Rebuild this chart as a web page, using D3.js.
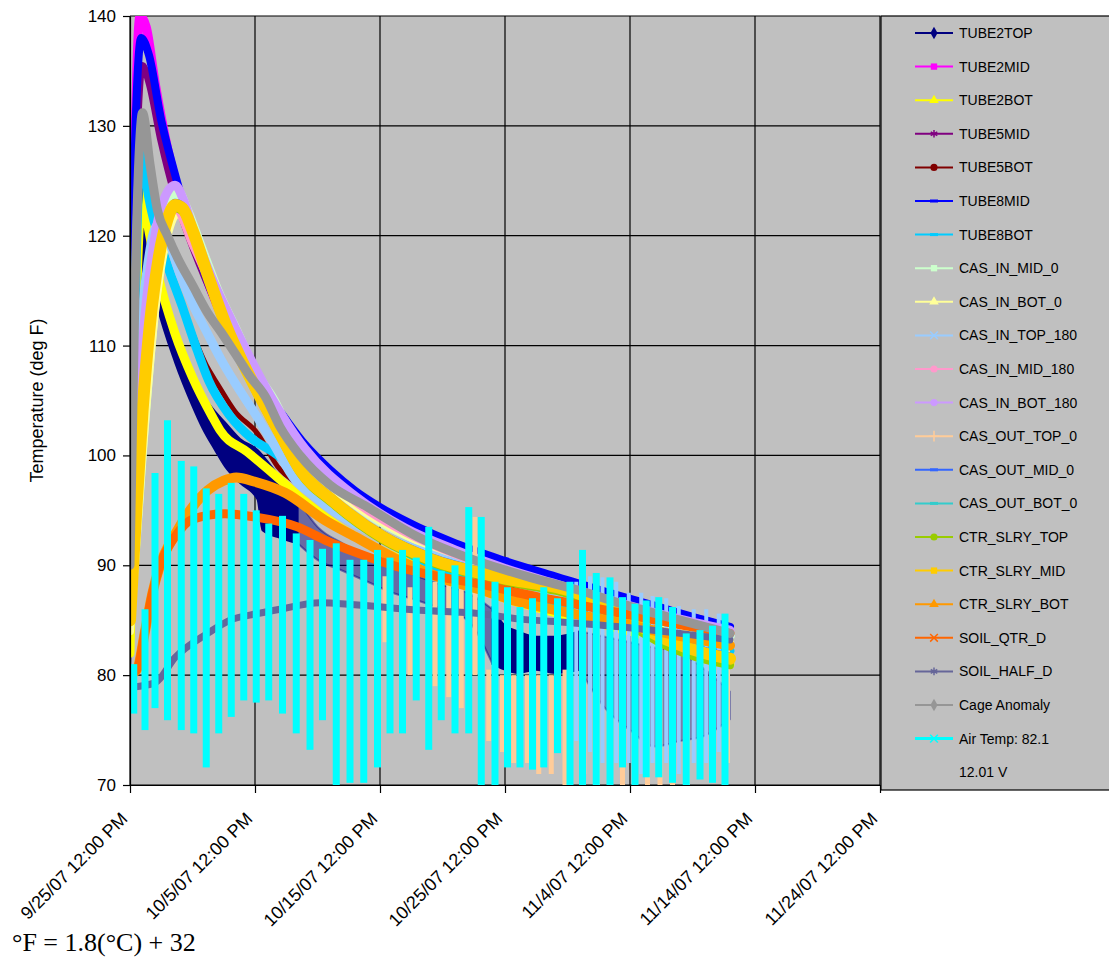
<!DOCTYPE html>
<html>
<head>
<meta charset="utf-8">
<script src="https://cdnjs.cloudflare.com/ajax/libs/d3/7.8.5/d3.min.js"></script>
<style>
  body { margin: 0; background: #fff; }
  svg { display: block; }
  text { font-family: Arial, "Liberation Sans", sans-serif; fill: #000; }
</style>
</head>
<body>
<script>
// days counted from 9/25/07 12:00 PM
var xTickDays = [0, 10, 20, 30, 40, 50, 60];
var xTickLabels = ["9/25/07 12:00 PM", "10/5/07 12:00 PM", "10/15/07 12:00 PM", "10/25/07 12:00 PM",
                   "11/4/07 12:00 PM", "11/14/07 12:00 PM", "11/24/07 12:00 PM"];
var yTicks = [70, 80, 90, 100, 110, 120, 130, 140];

var seriesNames = ["TUBE2TOP", "TUBE2MID", "TUBE2BOT", "TUBE5MID", "TUBE5BOT", "TUBE8MID", "TUBE8BOT",
  "CAS_IN_MID_0", "CAS_IN_BOT_0", "CAS_IN_TOP_180", "CAS_IN_MID_180", "CAS_IN_BOT_180",
  "CAS_OUT_TOP_0", "CAS_OUT_MID_0", "CAS_OUT_BOT_0", "CTR_SLRY_TOP", "CTR_SLRY_MID", "CTR_SLRY_BOT",
  "SOIL_QTR_D", "SOIL_HALF_D", "Cage Anomaly", "Air Temp: 82.1", "12.01 V"];
var seriesColors = ["#000080", "#FF00FF", "#FFFF00", "#800080", "#800000", "#0000FF", "#00CCFF",
  "#CCFFCC", "#FFFF99", "#99CCFF", "#FF99CC", "#CC99FF",
  "#FFCC99", "#3366FF", "#33CCCC", "#99CC00", "#FFCC00", "#FF9900",
  "#FF6600", "#666699", "#969696", "#00FFFF", null];
var seriesMarkers = ["diamond", "square", "triangle", "asterisk", "circle", "dash", "dash",
  "square", "triangle", "times", "circle", "circle",
  "plus", "dash", "dash", "circle", "square", "triangle",
  "times", "asterisk", "diamond", "times", null];

// TUBE2TOP is a noisy cloud: [day, low, high]
var tube2TopA = [[0,80,82],[0.3,98,118],[0.8,110,127],[1.5,117,120],[2.2,113.5,116.5],[3.6,108.5,111],
  [5,104.5,107],[5.8,102.5,105.5],[6.8,100.5,104],[7.6,99,103],[8.8,97.5,101.5],[10.2,96,100.5],
  [10.6,93.2,100],[12,92.5,98],[13.4,92,96]];
var tube2TopB = [[13.4,92,96],[15,90.5,93.5],[17,89.5,92],[19,88.5,90.8],[21,87.5,90],[23,86.8,89],
  [25,86,88.2],[27,85,87.5],[29,81,86]];
var tube2TopC = [[29,81,86],[30,80.5,84.5],[31,80.2,84],[32.5,80.5,83.5],[34,80.2,83.5],[36,80.5,84]];
var tube2TopD = [[36,80.5,84],[38,77,83.5],[40,75,83],[42,73.5,82.5],[44,74,82],[46,74.5,80.5],[48,76,78.5]];

var tube2Mid = [[0,90],[0.4,128],[0.8,140],[1.3,139],[2,134],[3,128],[4,123.5],[5,120],[6,116.5],[8,111],
  [10,106.5],[12,103],[14,100],[16,97.8],[18,96],[20,94.6],[23,92.7],[26,91.2],[30,89.7],[34,88.3],
  [38,86.9],[42,85.5],[46,84.2],[48,83.6]];
var tube2Bot = [[0,82],[0.5,113],[1.0,123.9],[1.5,120.5],[2.2,116.6],[3.6,111.1],[5.0,107.1],[6.6,103.5],
  [7.2,102.3],[9.4,100.3],[12,97.8],[14,95.8],[17,93.3],[20,91.4],[25,89],[30,87],[35,85.4],[40,84],
  [44,82.6],[48,81]];
var tube5Mid = [[0,95],[0.5,126],[1,135.5],[1.5,134],[2.5,128.5],[3.5,124],[5,119],[7,113.5],[10,106.5],
  [14,100.3],[18,96.3],[22,93.8],[26,91.8],[30,90.1],[35,88.4],[40,86.8],[44,85.6],[48,84.4]];
var tube5Bot = [[0,88],[0.5,118],[1.2,126],[2,121.5],[3,117],[4.4,112.9],[6.2,108],[7,106.5],[8.4,104],
  [10.2,102],[11.8,99],[14,97],[17,94.5],[20,92.5],[25,90],[30,88],[35,86.5],[40,85],[44,84],[48,83]];
var tube8Mid = [[0,95],[0.3,124],[0.9,138],[1.5,136.5],[2.5,130.5],[3.5,126],[4.5,122],[6,116.5],[8,111],
  [10,106.8],[11,105.5],[12,104],[14,101],[16,98.7],[18,96.8],[20,95.3],[23,93.5],[26,92],[30,90.4],
  [34,89],[38,87.6],[42,86.3],[46,85],[48,84.4]];
var tube8Bot = [[0,85],[0.5,118],[0.9,128],[1.5,123.5],[2.6,118.7],[4.2,113.5],[5.4,109.5],[6.3,106.8],
  [8,103.6],[9.8,101.5],[11.6,100.2],[14.2,97.8],[17,95],[20,92.6],[25,89.6],[30,87.6],[35,86],[40,84.6],
  [44,83.4],[48,82.2]];
var casInMid0 = [[0,85],[1,101],[2,114],[3,121.5],[3.8,124],[4.5,122.5],[5.5,119.5],[7,115],[8.4,111.6],
  [10.2,107.3],[11.5,105],[13,101.5],[14.5,99],[17,96.5],[20,94],[23,92.3],[26,90.9],[30,89.4],[35,87.7],
  [40,86],[44,84.8],[48,83.6]];
var casInBot0 = [[0,84],[1,100],[2,113],[3,120],[3.8,122],[5,119.5],[7,114],[10,106.5],[14,99.5],[18,95.5],
  [22,92.8],[26,90.7],[30,89],[35,87.2],[40,85.5],[44,84.3],[48,83.1]];
var casInTop180 = [[0,86],[0.8,110],[1.5,118],[2.2,121],[2.8,120.3],[4,116.5],[5,113.8],[6.2,111.1],
  [7.3,108.7],[8.4,106.6],[10,103.8],[11.5,101],[13.2,97.8],[14.5,96.5],[16.2,95],[19,93.2],[21.6,92],
  [25,90.6],[30,88.8],[35,87.2],[40,85.7],[44,84.7],[48,83.7]];
var casInTop180Swings = [[35.7,74,88.5],[36.8,73,89],[37.8,72,88.9],[38.9,72,88.5],[39.9,72,87.5],
  [40.9,71,87.5],[41.8,72,87.2],[42.9,72,87],[43.9,71,86.3],[45.1,72,86],[46.1,72,86],[47.1,73,85.6]];
var casInMid180 = [[0,86],[1,106],[2,117],[3,121.5],[3.6,122.5],[5,119.2],[7,114.2],[10,107],[14,100],
  [18,95.8],[22,93],[26,91],[30,89.4],[35,87.7],[40,86],[44,84.8],[48,83.8]];
var casInBot180 = [[0,88],[1,110],[2,120],[3,124],[3.6,124.6],[4.3,123.2],[5,120.8],[6.5,116.3],[8,112.6],
  [10,108],[14,100.6],[18,96.3],[22,93.4],[26,91.4],[30,89.7],[35,88],[40,86.3],[44,85.1],[48,84.1]];
var casOutTop0Swings = [[20.4,83,89],[22.4,80,88],[24.4,79,88.5],[25.5,78,89],[26.5,77,88],[27.6,80,94.4],
  [28.7,74,80.5],[29.8,73,80],[30.7,72,80],[31.8,72,80],[32.7,71,80],[33.7,71,80],[34.8,70,80.5],
  [36.3,71,85],[37.4,70,84.5],[38.4,70,85],[39.4,70,84.5],[40.4,71,84],[41.4,70,84],
  [42.4,70,83.5],[43.4,70,83.5],[44.6,70,83],[45.6,71,83],[46.6,71,82.5],[47.8,72,82.5]];
var casOutMid0 = [[0,85],[0.5,95.3],[1,104.3],[1.6,112.3],[2.3,118.3],[3,121.8],[3.6,123.1],[4.2,122.8],
  [5,120.8],[6.2,116.8],[7.8,111.8],[9,108.8],[10.2,106.1],[12,102.3],[13.6,99],[16.2,96.2],[20.2,92.9],
  [24.2,90.8],[29.6,89.2],[36.2,87.6],[40,85.3],[43,83.5],[46,82.3],[48,81.8]];
var casOutBot0 = [[0,85],[0.5,94.8],[1,103.8],[1.6,111.8],[2.3,117.8],[3,121.3],[3.6,122.6],[4.2,122.3],
  [5,120.3],[6.2,116.3],[7.8,111.3],[9,108.3],[10.2,105.6],[12,101.8],[13.6,98.5],[16.2,95.7],[20.2,92.4],
  [24.2,90.3],[29.6,88.7],[36.2,87.1],[40,84.8],[43,83],[46,81.8],[48,81.3]];
var ctrSlryTop = [[0,85],[0.5,95],[1,103.8],[1.6,111.7],[2.3,117.7],[3,121.2],[3.6,122.5],[4.2,122.2],
  [5,120.2],[6.2,116.2],[7.8,111.2],[9,108.2],[10.2,105.5],[12,101.7],[13.6,98.4],[16.2,95.6],[20.2,92.3],
  [24.2,90.2],[29.6,88.6],[36.2,86.9],[40,84.5],[43,82.6],[46,81.4],[48,80.9]];
var ctrSlryMid = [[0,85],[0.5,95],[1,104],[1.6,112],[2.3,118],[3,121.5],[3.6,122.8],[4.2,122.5],[5,120.5],
  [6.2,116.5],[7.8,111.5],[9,108.5],[10.2,105.8],[12,102],[13.6,98.7],[16.2,95.9],[20.2,92.6],[24.2,90.5],
  [29.6,88.9],[36.2,87.3],[40,85],[43,83.2],[46,82],[48,81.5]];
var ctrSlryBot = [[0,80],[0.6,80.6],[1.2,84],[1.8,87.5],[2.4,90],[3.6,92.8],[5,95.3],[6.2,96.8],[7.5,97.7],
  [8.5,98],[10,97.6],[12.4,96.6],[15.6,94.1],[18,92.6],[21.6,90.4],[25,88.8],[28,87.8],[31,86.7],[35,85.7],
  [39,84.8],[43,83.8],[48,82.7]];
var soilQtrD = [[0,80],[0.6,80.6],[1.2,84],[1.8,87.5],[2.4,90],[3.6,92.6],[5,94.2],[7.6,94.7],[10,94.4],
  [13.4,93.5],[15.6,92.3],[18,91.2],[21.6,89.8],[25,88.9],[28,88.3],[31,87.5],[35,86.6],[39,85.7],[43,84.8],[48,83.8]];
var soilHalfD = [[0,78.9],[2,79.3],[3.6,81.6],[6.2,83.8],[8,85],[10.2,85.6],[12,86],[15.2,86.6],[18,86.4],
  [23.2,85.9],[28,85.6],[31.2,85.1],[35,84.8],[39.2,84.4],[44,83.8],[48,83.2]];
var cageAnomaly = [[0,90],[0.4,115],[0.8,129],[1.0,131.2],[1.6,126.5],[2.2,122.3],[3,120],[3.8,118],[5,115.5],
  [6.2,113],[7.3,111.2],[8.4,109.3],[9.6,107.2],[10.8,105.4],[12,102.6],[13.6,100],[16,97.3],[19,95.3],
  [23,92.6],[27,90.7],[32,88.9],[36,87.7],[39,86.6],[44,85],[48,83.8]];
// daily air temperature swing: [day, low, high]
var airTemp = [[0.3,76.5,81],[1.2,75,86],[2.0,77,98.4],[3.0,75.9,103.2],[4.1,75,99.5],[5.1,74.7,99],
  [6.1,71.6,97],[7.1,74.7,96.5],[8.1,76.2,97.5],[9.1,77.7,96.5],[10.1,77.5,95],[11.1,77.7,93.8],
  [12.2,76.5,94.5],[13.3,74.7,92.9],[14.4,73.2,92.3],[15.4,75.9,91.5],[16.5,69.8,92],[17.6,70.2,90.5],
  [18.7,70.2,90.5],[19.8,71.6,91.4],[20.8,74.7,90.7],[21.8,74.7,91.4],[22.9,77.7,90.7],[23.9,73.2,93.5],
  [24.9,75.9,89.5],[26.0,74.7,90],[27.1,74.7,95.3],[28.1,69.8,94.4],[29.2,69.8,88.5],[30.2,71.6,88],
  [31.2,71.6,86.2],[32.2,71.4,87],[33.1,71.6,88],[34.2,72.9,87],[35.2,69.8,88.5],[36.2,69.8,91.4],
  [37.3,69.8,89.3],[38.4,69.8,88.9],[39.4,71.6,87.1],[40.4,69.8,86.5],[41.3,70.7,86.8],[42.3,70.7,87.1],
  [43.4,70.2,86.2],[44.5,69.8,83.8],[45.6,70.5,84.1],[46.6,70.2,84.5],[47.6,70,85.6]];

var width = 1109, height = 959;
var plotLeft = 130, plotRight = 880, plotTop = 16, plotBottom = 785;

var svg = d3.select("body").append("svg")
    .attr("width", width)
    .attr("height", height);

var x = d3.scaleLinear().domain([0, 60]).range([plotLeft, plotRight]);
var y = d3.scaleLinear().domain([70, 140]).range([plotBottom, plotTop]);

svg.append("rect")
    .attr("x", plotLeft).attr("y", plotTop)
    .attr("width", plotRight - plotLeft).attr("height", plotBottom - plotTop)
    .attr("fill", "#C0C0C0");

// gridlines
svg.append("g").selectAll("line")
    .data(yTicks)
    .enter().append("line")
    .attr("x1", plotLeft).attr("x2", plotRight)
    .attr("y1", function(d) { return y(d); }).attr("y2", function(d) { return y(d); })
    .attr("stroke", "#000").attr("stroke-width", 1.2);
svg.append("g").selectAll("line")
    .data(xTickDays)
    .enter().append("line")
    .attr("x1", function(d) { return x(d); }).attr("x2", function(d) { return x(d); })
    .attr("y1", plotTop).attr("y2", plotBottom)
    .attr("stroke", "#000").attr("stroke-width", 1.2);

svg.append("clipPath").attr("id", "plotClip")
    .append("rect")
    .attr("x", plotLeft).attr("y", plotTop)
    .attr("width", plotRight - plotLeft).attr("height", plotBottom - plotTop);

var plot = svg.append("g").attr("clip-path", "url(#plotClip)");

var line = d3.line()
    .x(function(d) { return x(d[0]); })
    .y(function(d) { return y(d[1]); })
    .curve(d3.curveMonotoneX);

var band = d3.area()
    .x(function(d) { return x(d[0]); })
    .y0(function(d) { return y(d[1]); })
    .y1(function(d) { return y(d[2]); })
    .curve(d3.curveMonotoneX);

function drawLine(data, color, w) {
    plot.append("path").datum(data)
        .attr("d", line)
        .attr("fill", "none")
        .attr("stroke", color)
        .attr("stroke-width", w)
        .attr("stroke-linejoin", "round")
        .attr("stroke-linecap", "round");
}

function drawBand(data, color, op) {
    plot.append("path").datum(data)
        .attr("d", band)
        .attr("fill", color)
        .attr("fill-opacity", op)
        .attr("stroke", color)
        .attr("stroke-opacity", op)
        .attr("stroke-width", 2);
}

function drawSwings(data, color, w) {
    plot.append("g").selectAll("rect")
        .data(data)
        .enter().append("rect")
        .attr("x", function(d) { return x(d[0]) - w / 2; })
        .attr("width", w)
        .attr("y", function(d) { return y(d[2]); })
        .attr("height", function(d) { return y(d[1]) - y(d[2]); })
        .attr("fill", color);
}

// series in workbook order, later ones on top
drawBand(tube2TopA, seriesColors[0], 1);
drawBand(tube2TopB, seriesColors[0], 0.45);
drawBand(tube2TopC, seriesColors[0], 1);
drawBand(tube2TopD, seriesColors[0], 0.35);
drawLine(tube2Mid, seriesColors[1], 9);
drawLine(tube2Bot, seriesColors[2], 9);
drawLine(tube5Mid, seriesColors[3], 7);
drawLine(tube5Bot, seriesColors[4], 5);
drawLine(tube8Mid, seriesColors[5], 8);
drawLine(tube8Bot, seriesColors[6], 9);
drawLine(casInMid0, seriesColors[7], 10);
drawLine(casInBot0, seriesColors[8], 8);
drawSwings(casInTop180Swings, seriesColors[9], 4);
drawLine(casInTop180, seriesColors[9], 9);
drawLine(casInMid180, seriesColors[10], 8);
drawLine(casInBot180, seriesColors[11], 9);
drawSwings(casOutTop0Swings, seriesColors[12], 5);
drawLine(casOutMid0, seriesColors[13], 6);
drawLine(casOutBot0, seriesColors[14], 6);
drawLine(ctrSlryTop, seriesColors[15], 8);
drawLine(ctrSlryMid, seriesColors[16], 12);
drawLine(ctrSlryBot, seriesColors[17], 10);
drawLine(soilQtrD, seriesColors[18], 9);
drawLine(soilHalfD, seriesColors[19], 7);
drawLine(cageAnomaly, seriesColors[20], 9);
drawSwings(airTemp, seriesColors[21], 7);

// axes
var yAxis = d3.axisLeft(y).tickValues(yTicks).tickSize(7).tickSizeOuter(0).tickPadding(7);
var yg = svg.append("g").attr("transform", "translate(" + plotLeft + ",0)").call(yAxis);
yg.selectAll("text").style("font-size", "17px");
yg.selectAll("line, path").attr("stroke", "#000").attr("stroke-width", 1.2);

var xAxis = d3.axisBottom(x).tickValues(xTickDays).tickSize(8).tickSizeOuter(0)
    .tickFormat(function(d, i) { return xTickLabels[i]; });
var xg = svg.append("g").attr("transform", "translate(0," + plotBottom + ")").call(xAxis);
xg.selectAll("line, path").attr("stroke", "#000").attr("stroke-width", 1.2);
xg.selectAll("text")
    .attr("x", 0).attr("y", 0).attr("dy", 0)
    .attr("text-anchor", "end")
    .attr("transform", "translate(-2,35) rotate(-45)")
    .style("font-size", "18px");

svg.append("text")
    .attr("transform", "translate(43," + (plotTop + plotBottom) / 2 + ") rotate(-90)")
    .attr("text-anchor", "middle")
    .style("font-size", "18px")
    .text("Temperature (deg F)");

// legend
var legend = svg.append("g");
legend.append("rect")
    .attr("x", 881).attr("y", 16)
    .attr("width", 240).attr("height", 774)
    .attr("fill", "#C0C0C0")
    .attr("stroke", "#000").attr("stroke-width", 1.2);

function markerPath(kind) {
    var types = { diamond: d3.symbolDiamond, square: d3.symbolSquare, triangle: d3.symbolTriangle,
        circle: d3.symbolCircle, asterisk: d3.symbolAsterisk, times: d3.symbolTimes, plus: d3.symbolPlus };
    return d3.symbol(types[kind], kind === "diamond" ? 45 : 40)();
}

var items = legend.selectAll("g.item")
    .data(seriesNames)
    .enter().append("g")
    .attr("class", "item")
    .attr("transform", function(d, i) { return "translate(0," + (33 + i * 33.6) + ")"; });

items.each(function(d, i) {
    var g = d3.select(this);
    var c = seriesColors[i], m = seriesMarkers[i];
    if (c) {
        g.append("line").attr("x1", 915).attr("x2", 953)
            .attr("stroke", c).attr("stroke-width", i === 21 ? 3 : 2);
        if (m === "dash") {
            g.append("rect").attr("x", 930).attr("y", -1.5).attr("width", 8).attr("height", 3).attr("fill", c);
        } else {
            var stroked = (m === "asterisk" || m === "times" || m === "plus");
            g.append("path").attr("d", markerPath(m))
                .attr("transform", "translate(934,0)")
                .attr("fill", stroked ? "none" : c)
                .attr("stroke", stroked ? c : "none")
                .attr("stroke-width", 1.5);
        }
    }
    g.append("text").attr("x", 959).attr("dy", "0.36em")
        .style("font-size", "14px")
        .text(d);
});

svg.append("text")
    .attr("x", 12).attr("y", 951)
    .style("font-family", "'Times New Roman', 'Liberation Serif', serif")
    .style("font-size", "26px")
    .text("\u00B0F = 1.8(\u00B0C) + 32");
</script>
</body>
</html>
